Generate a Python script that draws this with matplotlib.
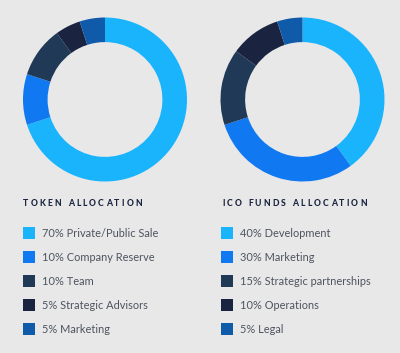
import matplotlib.pyplot as plt
from matplotlib.patches import Rectangle

# data
token_labels = ['70% Private/Public Sale', '10% Company Reserve', '10% Team',
                '5% Strategic Advisors', '5% Marketing']
token_values = [70, 10, 10, 5, 5]
ico_labels = ['40% Development', '30% Marketing', '15% Strategic partnerships',
              '10% Operations', '5% Legal']
ico_values = [40, 30, 15, 10, 5]
colors = ['#19b4fb', '#1079f1', '#1f3957', '#1a2440', '#0f5aa9']

W, H = 400, 353
bg = '#e8e8e9'
fig = plt.figure(figsize=(W / 100, H / 100), dpi=100, facecolor=bg)


def donut(cx, cy, r, values):
    ax = fig.add_axes([(cx - r) / W, (H - cy - r) / H, 2 * r / W, 2 * r / H])
    ax.pie(values, colors=colors, startangle=90, counterclock=False,
           radius=1, wedgeprops=dict(width=0.30, linewidth=0))
    ax.set_xlim(-1, 1)
    ax.set_ylim(-1, 1)
    ax.set_aspect('equal')
    ax.set_facecolor('#e6e7ea')
    for s in ax.spines.values():
        s.set_visible(False)
    ax.set_xticks([])
    ax.set_yticks([])


def spaced_title(x, y, text, spacing=2.2):
    r = fig.canvas.get_renderer()
    px = x
    for ch in text:
        t = fig.text(px / W, 1 - y / H, ch, fontsize=6.2, fontweight='black',
                     family='Lato', color='#1b2540', va='center', ha='left')
        if ch == ' ':
            w = 2.0
        else:
            w = t.get_window_extent(r).width
        px += w + spacing


def legend(x, tx, labels):
    for i, lab in enumerate(labels):
        yc = 233 + i * 24
        fig.patches.append(Rectangle((x / W, 1 - (yc + 6) / H), 12 / W, 12 / H,
                                     transform=fig.transFigure, facecolor=colors[i],
                                     edgecolor='none'))
        fig.text(tx / W, 1 - (yc + 0.5) / H, lab, fontsize=7.9, family='Lato',
                 color='#4e545d', va='center', ha='left')


donut(105, 99.5, 82, token_values)
donut(302.5, 99.5, 82, ico_values)

spaced_title(23, 204, 'TOKEN ALLOCATION')
spaced_title(222, 204, 'ICO FUNDS ALLOCATION')
legend(23, 42, token_labels)
legend(221, 240, ico_labels)

fig.savefig('out.png', dpi=100, facecolor=bg)
